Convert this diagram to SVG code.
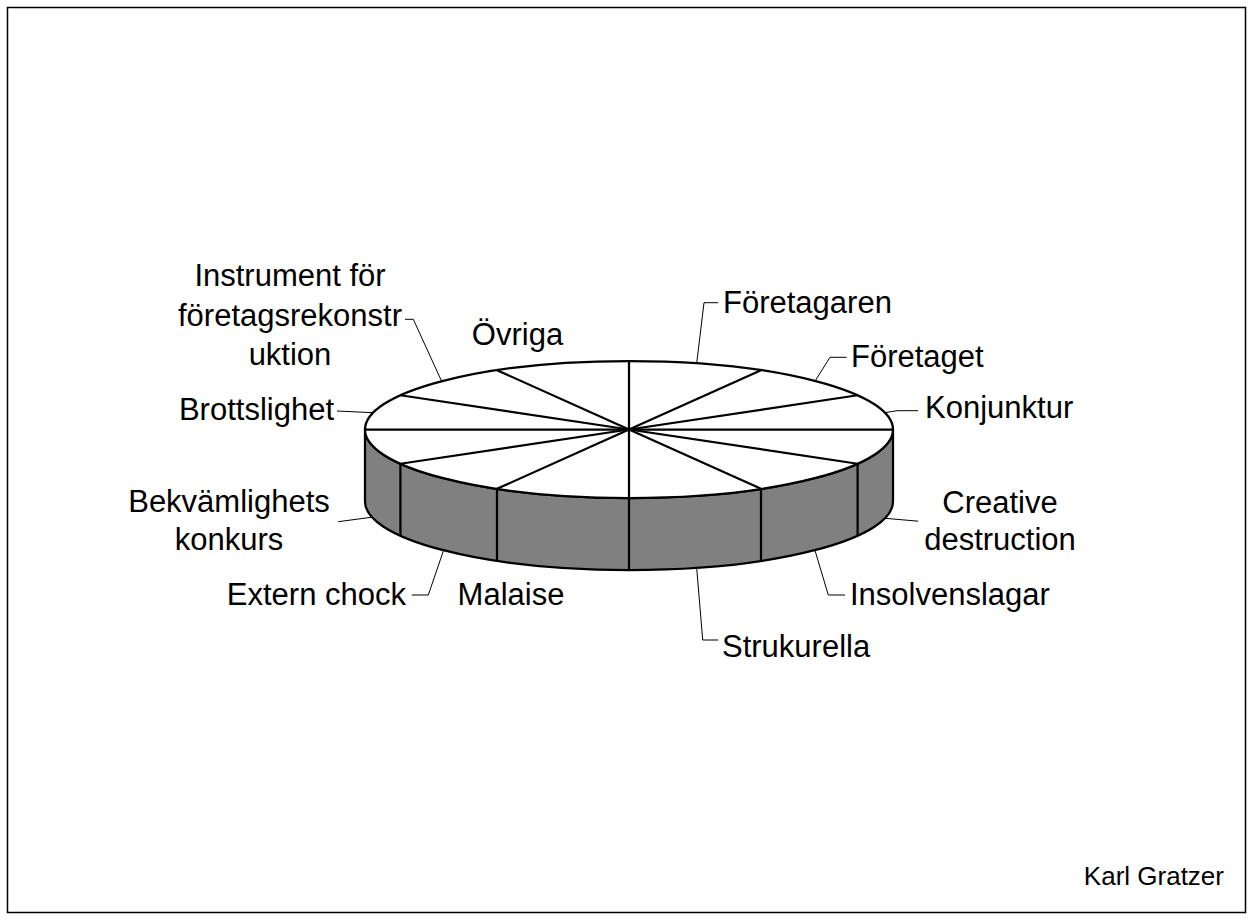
<svg xmlns="http://www.w3.org/2000/svg" width="1253" height="920" viewBox="0 0 1253 920">
<style>
.t{font-family:"Liberation Sans",Arial,sans-serif;font-size:31px;fill:#000}
.m{text-anchor:middle}
.e{text-anchor:end}
.thick{fill:none;stroke:#000;stroke-width:2.25;stroke-linejoin:round}
.lead{fill:none;stroke:#000;stroke-width:1}
</style>
<rect x="0" y="0" width="1253" height="920" fill="#fff"/>
<rect x="7.5" y="7.5" width="1238" height="905" fill="none" stroke="#000" stroke-width="1.5"/>
<g id="pie">
  <path d="M365 429.5 A264 68.5 0 0 0 893 429.5 L893 501.5 A264 68.5 0 0 1 365 501.5 Z" fill="#808080" stroke="#000" stroke-width="2.25"/>
  <g class="thick">
    <line x1="400.4" y1="463.75" x2="400.4" y2="535.75"/>
    <line x1="497" y1="488.8" x2="497" y2="560.8"/>
    <line x1="629" y1="498" x2="629" y2="570"/>
    <line x1="761" y1="488.8" x2="761" y2="560.8"/>
    <line x1="857.6" y1="463.75" x2="857.6" y2="535.75"/>
  </g>
  <ellipse cx="629" cy="429.5" rx="264" ry="68.5" fill="#fff" stroke="#000" stroke-width="2.25"/>
  <g class="thick">
    <line x1="365" y1="429.5" x2="893" y2="429.5"/>
    <line x1="629" y1="361" x2="629" y2="498"/>
    <line x1="629" y1="429.5" x2="857.6" y2="395.25"/>
    <line x1="629" y1="429.5" x2="761" y2="370.2"/>
    <line x1="629" y1="429.5" x2="497" y2="370.2"/>
    <line x1="629" y1="429.5" x2="400.4" y2="395.25"/>
    <line x1="629" y1="429.5" x2="400.4" y2="463.75"/>
    <line x1="629" y1="429.5" x2="497" y2="488.8"/>
    <line x1="629" y1="429.5" x2="761" y2="488.8"/>
    <line x1="629" y1="429.5" x2="857.6" y2="463.75"/>
  </g>
</g>
<g id="connectors">
  <polyline class="lead" points="405,319.3 413.3,319.3 441.5,381"/>
  <polyline class="lead" points="337,411 373,412.7"/>
  <polyline class="lead" points="338.3,521.7 372,517.2"/>
  <polyline class="lead" points="411.7,595 428.3,595 443.5,550.5"/>
  <polyline class="lead" points="696.7,568 702.7,640 718.3,640"/>
  <polyline class="lead" points="815,550.5 828.3,595 845,595"/>
  <polyline class="lead" points="885,518.3 918.3,521.2"/>
  <polyline class="lead" points="885,412.7 897,410.7 918,410.7"/>
  <polyline class="lead" points="815,381.2 830,357.3 846.7,357.3"/>
  <polyline class="lead" points="696.7,363.3 704,302.7 718,302.7"/>
</g>
<g id="label-ovriga"><text class="t m" x="517.5" y="345">Övriga</text></g>
<g id="label-instrument">
  <text class="t m" x="290" y="286">Instrument för</text>
  <text class="t m" x="290" y="325.5">företagsrekonstr</text>
  <text class="t m" x="290" y="364.5">uktion</text>
</g>
<g id="label-brottslighet"><text class="t e" x="334" y="420">Brottslighet</text></g>
<g id="label-bekvamlighets">
  <text class="t m" x="229" y="511.7">Bekvämlighets</text>
  <text class="t m" x="229" y="550">konkurs</text>
</g>
<g id="label-extern"><text class="t e" x="406" y="605">Extern chock</text></g>
<g id="label-malaise"><text class="t m" x="511" y="605">Malaise</text></g>
<g id="label-strukurella"><text class="t" x="722" y="656.7">Strukurella</text></g>
<g id="label-insolvenslagar"><text class="t" x="850" y="605">Insolvenslagar</text></g>
<g id="label-creative">
  <text class="t m" x="1000" y="512.7">Creative</text>
  <text class="t m" x="1000" y="550">destruction</text>
</g>
<g id="label-konjunktur"><text class="t" x="925" y="418.3">Konjunktur</text></g>
<g id="label-foretaget"><text class="t" x="851" y="367.3">Företaget</text></g>
<g id="label-foretagaren"><text class="t" x="723" y="313.3">Företagaren</text></g>
<g id="label-author"><text class="t e" x="1224" y="885" style="font-size:26px">Karl Gratzer</text></g>
</svg>
